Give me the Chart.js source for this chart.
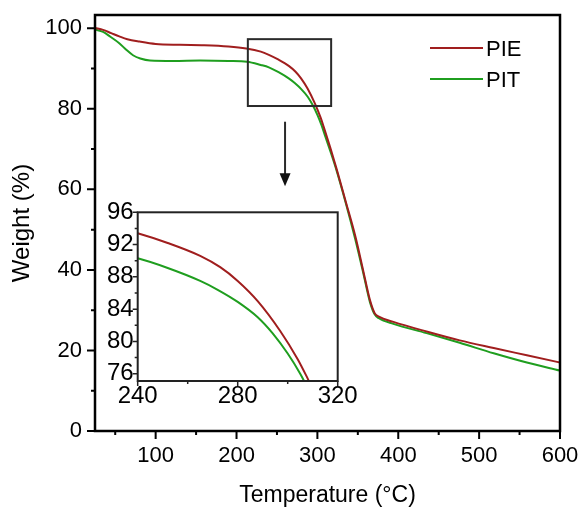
<!DOCTYPE html>
<html>
<head>
<meta charset="utf-8">
<script src="https://cdn.jsdelivr.net/npm/chart.js@4"></script>
<style>
  body { margin: 0; background: #fff; }
  #wrap { position: relative; width: 582px; height: 509px; }
  #mainChart { position: absolute; left: 0; top: 0; }
  #insetChart { position: absolute; left: 88px; top: 195px; }
</style>
</head>
<body>
<div id="wrap">
  <canvas id="mainChart" width="582" height="509"></canvas>
  <canvas id="insetChart" width="290" height="225"></canvas>
</div>
<script>
// TGA curves
const pieTemp = [25, 35, 45, 55, 65, 80, 100, 130, 160, 190, 212, 230, 240, 252, 265, 273, 280, 288, 297, 304, 308, 316, 324, 335, 347, 357, 365, 371, 376, 394, 435, 476, 518, 559, 600];
const pieWeight = [100.1, 99.6, 98.8, 98.0, 97.3, 96.7, 96.1, 95.9, 95.8, 95.5, 95.0, 94.2, 93.4, 92.2, 90.6, 89.2, 87.5, 85.0, 81.3, 77.8, 75.4, 70.3, 64.9, 57.0, 48.3, 39.5, 32.5, 29.2, 28.4, 27.1, 24.7, 22.5, 20.6, 18.8, 17.0];

const pitTemp = [25, 35, 44, 55, 64, 72, 81, 93, 122, 155, 190, 213, 230, 240, 252, 265, 272, 280, 288, 294, 300, 305, 310, 322, 335, 347, 357, 365, 371, 376, 394, 435, 476, 518, 559, 600];
const pitWeight = [99.7, 99.1, 97.9, 96.3, 94.6, 93.3, 92.5, 92.0, 91.9, 92.0, 91.9, 91.7, 90.9, 90.3, 89.1, 87.5, 86.4, 84.9, 83.0, 81.0, 78.5, 76.0, 73.0, 65.8, 56.7, 47.5, 39.0, 32.0, 28.9, 28.0, 26.6, 24.3, 21.9, 19.3, 17.0, 15.0];

const seriesNames = ["PIE", "PIT"];
const seriesColors = ["#a01e1e", "#1f9e1f"];

const mainXTicks = [100, 200, 300, 400, 500, 600];
const mainXMinor = [50, 150, 250, 350, 450, 550];
const mainYTicks = [0, 20, 40, 60, 80, 100];
const mainYMinor = [10, 30, 50, 70, 90];

const insetXTicks = [240, 280, 320];
const insetXMinor = [260, 300];
const insetYTicks = [76, 80, 84, 88, 92, 96];
const insetYMinor = [78, 82, 86, 90, 94];

// zoom box and arrow, in data units of the main chart
const zoomBox = { x1: 214, x2: 317, y1: 97.3, y2: 80.7 };
const arrow = { x: 260, from: 76.8, to: 60.8 };

Chart.defaults.font.family = "'Liberation Sans', Arial, sans-serif";
Chart.defaults.color = "#000";

function points(ts, ws) {
  return ts.map((t, i) => ({ x: t, y: ws[i] }));
}

function makeDatasets() {
  return [
    { label: seriesNames[0], data: points(pieTemp, pieWeight) },
    { label: seriesNames[1], data: points(pitTemp, pitWeight) }
  ].map((d, i) => Object.assign(d, {
    borderColor: seriesColors[i],
    borderWidth: 2,
    pointRadius: 0,
    fill: false,
    cubicInterpolationMode: "monotone"
  }));
}

// frame + tick marks drawn from the scales
const frameTicks = {
  id: "frameTicks",
  afterDatasetsDraw(chart, args, o) {
    const { ctx, chartArea: a, scales: { x, y } } = chart;
    ctx.save();
    ctx.strokeStyle = o.color;
    ctx.lineWidth = o.width;
    ctx.strokeRect(a.left, a.top, a.right - a.left, a.bottom - a.top);
    ctx.lineWidth = o.tickWidth;
    ctx.beginPath();
    const tx = (vals, len) => vals.forEach(v => {
      const px = x.getPixelForValue(v);
      ctx.moveTo(px, a.bottom);
      ctx.lineTo(px, a.bottom + len);
    });
    const ty = (vals, len) => vals.forEach(v => {
      const py = y.getPixelForValue(v);
      ctx.moveTo(a.left, py);
      ctx.lineTo(a.left - len, py);
    });
    tx(o.xMajor, o.major); tx(o.xMinor, o.minor);
    ty(o.yMajor, o.major); ty(o.yMinor, o.minor);
    ctx.stroke();
    ctx.restore();
  }
};

// zoom box, arrow and legend on the main chart
const extras = {
  id: "extras",
  afterDraw(chart) {
    const { ctx, scales: { x, y } } = chart;
    ctx.save();
    ctx.strokeStyle = "#2a2a2a";
    ctx.lineWidth = 2;
    const bx1 = x.getPixelForValue(zoomBox.x1), bx2 = x.getPixelForValue(zoomBox.x2);
    const by1 = y.getPixelForValue(zoomBox.y1), by2 = y.getPixelForValue(zoomBox.y2);
    ctx.strokeRect(bx1, by1, bx2 - bx1, by2 - by1);

    const ax = x.getPixelForValue(arrow.x);
    const ay1 = y.getPixelForValue(arrow.from), ay2 = y.getPixelForValue(arrow.to);
    ctx.beginPath();
    ctx.moveTo(ax, ay1);
    ctx.lineTo(ax, ay2 - 12);
    ctx.stroke();
    ctx.fillStyle = "#111";
    ctx.beginPath();
    ctx.moveTo(ax - 5.5, ay2 - 13);
    ctx.lineTo(ax + 5.5, ay2 - 13);
    ctx.lineTo(ax, ay2);
    ctx.closePath();
    ctx.fill();

    ctx.font = "22px 'Liberation Sans', Arial, sans-serif";
    ctx.textBaseline = "middle";
    ctx.fillStyle = "#000";
    seriesNames.forEach((n, i) => {
      const ly = 48 + i * 31;
      ctx.strokeStyle = seriesColors[i];
      ctx.lineWidth = 2;
      ctx.beginPath();
      ctx.moveTo(430, ly);
      ctx.lineTo(483, ly);
      ctx.stroke();
      ctx.fillText(n, 486, ly + 2);
    });
    ctx.restore();
  }
};

// tick labels are pushed off the axis with an invisible tick length, so that
// ticks.padding stays 0 and does not inflate the chart area padding
new Chart(document.getElementById("mainChart"), {
  type: "line",
  data: { datasets: makeDatasets() },
  plugins: [frameTicks, extras],
  options: {
    responsive: false,
    animation: false,
    devicePixelRatio: 1,
    layout: { padding: { left: 0, top: 15, right: 22, bottom: 0 } },
    plugins: {
      legend: { display: false },
      tooltip: { enabled: false },
      frameTicks: {
        color: "#000", width: 2.5, tickWidth: 2, major: 8, minor: 4,
        xMajor: mainXTicks, xMinor: mainXMinor, yMajor: mainYTicks, yMinor: mainYMinor
      }
    },
    scales: {
      x: {
        type: "linear", min: 25, max: 600,
        grid: { display: false, drawTicks: true, tickLength: 12 },
        border: { display: false },
        afterBuildTicks: s => { s.ticks = mainXTicks.map(v => ({ value: v })); },
        afterFit: s => { s.height = 78; },
        ticks: { padding: 0, font: { size: 22 }, maxRotation: 0 },
        title: { display: true, text: "Temperature (°C)", font: { size: 23 }, padding: { top: 0, bottom: 0 } }
      },
      y: {
        min: 0, max: 103.3,
        grid: { display: false, drawTicks: true, tickLength: 13 },
        border: { display: false },
        afterBuildTicks: s => { s.ticks = mainYTicks.map(v => ({ value: v })); },
        afterFit: s => { s.width = 95; },
        ticks: { padding: 0, font: { size: 22 } },
        title: { display: true, text: "Weight (%)", font: { size: 24 }, padding: { top: 8, bottom: 0 } }
      }
    }
  }
});

new Chart(document.getElementById("insetChart"), {
  type: "line",
  data: { datasets: makeDatasets() },
  plugins: [frameTicks],
  options: {
    responsive: false,
    animation: false,
    devicePixelRatio: 1,
    layout: { padding: { left: 0, top: 17.3, right: 40.3, bottom: 0 } },
    plugins: {
      legend: { display: false },
      tooltip: { enabled: false },
      frameTicks: {
        color: "#222", width: 2, tickWidth: 1.5, major: 5, minor: 3,
        xMajor: insetXTicks, xMinor: insetXMinor, yMajor: insetYTicks, yMinor: insetYMinor
      }
    },
    scales: {
      x: {
        type: "linear", min: 240, max: 320,
        grid: { display: false, drawTicks: true, tickLength: 1 },
        border: { display: false },
        afterBuildTicks: s => { s.ticks = insetXTicks.map(v => ({ value: v })); },
        afterFit: s => { s.height = 39; },
        ticks: { padding: 0, font: { size: 24 }, maxRotation: 0 }
      },
      y: {
        min: 75.1, max: 96,
        grid: { display: false, drawTicks: true, tickLength: 4 },
        border: { display: false },
        afterBuildTicks: s => { s.ticks = insetYTicks.map(v => ({ value: v })); },
        afterFit: s => { s.width = 49.7; },
        ticks: { padding: 0, font: { size: 24 } }
      }
    }
  }
});
</script>
</body>
</html>
